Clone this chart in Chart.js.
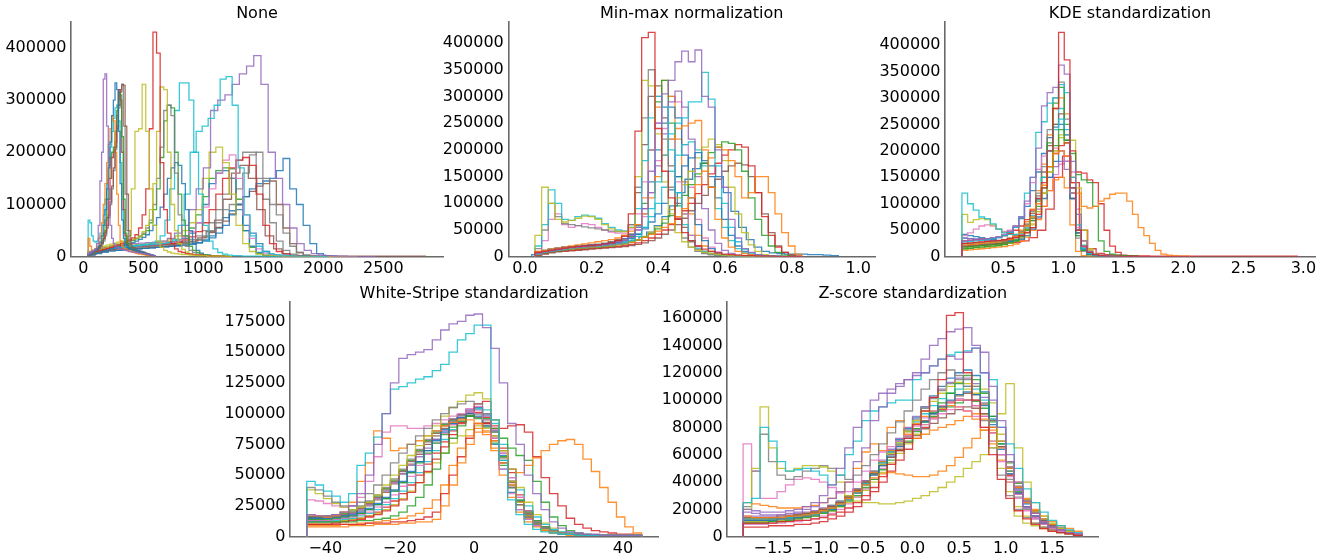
<!DOCTYPE html>
<html><head><meta charset="utf-8">
<script src="https://cdn.jsdelivr.net/npm/chart.js@4.4.1/dist/chart.umd.min.js"></script>
<style>
html,body{margin:0;padding:0;background:#fff;width:1333px;height:555px;overflow:hidden;position:relative}
canvas{position:absolute}
</style></head><body>
<script>
// ---------------- DATA (counts in thousands, 40 bins per histogram) ----------------
// Panel 1: "None" (raw intensities)
const noneXTicks = [0, 500, 1000, 1500, 2000, 2500];
const noneYTicks = [0, 100000, 200000, 300000, 400000];
const noneRanges = [
  [40,600],[40,600],[40,600],[40,600],[40,600],[40,600],[40,600],[40,600],
  [40,1240],[40,1240],[40,1240],[40,1240],[40,1240],[40,1240],
  [40,1640],[40,2040],[40,2440],
  [40,2280],[40,2280],[40,2280],[40,2280],[40,2280],[40,2280],[40,2280],[40,2280],[40,2280],[40,2280],
  [40,2850]
];
const noneCounts = [
  [6,8,10,12,15,25,60,145,200,340,350,250,130,60,35,25,20,18,16,15,14,13,12,11,10,10,9,9,8,8,7,7,6,6,5,5,4,4,3,2],
  [4,6,8,10,12,15,20,28,40,60,90,130,170,220,270,300,333,320,240,140,70,35,22,18,16,15,14,13,12,11,10,9,8,7,6,5,4,3,2,1],
  [3,5,7,9,11,13,16,20,26,34,45,60,80,105,135,170,210,250,290,315,330,328,250,120,50,25,18,15,13,12,11,10,9,8,7,6,5,4,3,2],
  [35,20,12,12,14,18,25,40,65,100,140,180,215,245,270,260,200,120,60,30,20,16,14,12,11,10,9,8,7,6,5,5,4,4,3,3,2,2,1,1],
  [5,7,9,11,13,15,18,22,30,45,70,110,150,190,200,210,240,280,315,310,230,110,45,25,18,15,13,12,11,10,9,8,7,6,5,4,3,2,2,1],
  [4,6,8,10,12,14,17,21,27,35,50,75,110,150,190,200,220,270,320,300,200,90,40,22,17,14,12,11,10,9,8,7,6,5,4,3,3,2,1,1],
  [3,5,7,9,11,13,15,19,24,30,40,55,75,100,130,165,205,245,285,320,330,250,120,50,25,18,15,13,12,11,10,9,8,7,6,5,4,3,2,1],
  [70,65,40,30,28,30,35,45,60,80,110,140,175,210,240,265,285,290,260,180,90,45,25,20,18,16,15,14,13,12,11,10,9,8,7,6,5,4,3,2],
  [8,12,15,18,20,22,24,26,28,30,34,40,130,240,245,330,240,130,60,30,18,12,9,7,6,5,4,4,3,3,2,2,2,1,1,1,1,1,0,0],
  [5,8,10,12,14,16,18,20,22,25,28,32,36,42,55,80,130,245,430,390,180,90,45,25,15,10,8,6,5,4,3,3,2,2,1,1,1,1,0,0],
  [6,9,12,14,16,18,20,22,24,26,28,30,33,36,40,48,60,90,140,240,325,320,200,100,50,25,14,9,6,4,3,2,2,1,1,1,1,0,0,0],
  [5,8,11,14,16,18,20,22,24,26,28,30,32,35,40,45,55,70,100,150,210,280,290,270,160,80,40,20,12,8,5,4,3,2,2,1,1,1,0,0],
  [4,7,10,13,15,17,19,21,23,25,27,29,31,34,38,43,50,65,90,130,190,260,290,285,200,120,70,40,20,12,8,5,4,3,2,2,1,1,1,0],
  [3,5,7,9,11,13,15,17,19,21,23,25,27,30,33,37,42,50,60,75,95,120,150,170,180,175,140,90,50,25,12,7,4,3,2,1,1,1,0,0],
  [8,12,14,15,16,17,18,19,20,21,22,23,24,26,30,40,70,130,280,333,333,300,200,120,60,30,15,8,5,3,2,2,1,1,1,1,0,0,0,0],
  [6,10,13,15,17,18,19,20,21,22,23,24,25,27,32,60,120,200,240,250,265,290,340,345,290,170,80,40,20,10,6,4,3,2,1,1,1,0,0,0],
  [10,15,18,20,22,24,25,26,27,28,30,35,45,60,90,130,170,280,300,310,330,350,365,385,330,200,150,100,55,25,12,6,3,2,1,1,0,0,0,0],
  [8,14,17,19,20,21,22,23,24,25,27,30,34,40,50,65,90,150,200,210,180,120,60,25,10,5,3,2,1,1,1,0,0,0,0,0,0,0,0,0],
  [6,12,15,17,18,19,20,21,22,23,24,26,28,32,38,48,65,95,130,160,185,195,150,80,35,15,7,4,2,1,1,0,0,0,0,0,0,0,0,0],
  [5,10,13,15,17,18,19,20,21,22,23,24,26,28,32,38,48,65,90,120,150,170,185,190,175,120,60,25,10,5,2,1,1,0,0,0,0,0,0,0],
  [5,9,12,14,16,17,18,19,20,21,22,23,24,26,29,33,40,50,65,90,120,150,185,200,200,150,110,65,30,12,5,2,1,1,0,0,0,0,0,0],
  [4,8,11,13,15,16,17,18,19,20,21,22,23,24,26,29,33,40,50,65,90,100,130,160,195,200,150,100,80,45,20,8,3,1,1,0,0,0,0,0],
  [3,6,9,11,12,13,14,15,16,17,18,19,20,21,22,24,26,30,36,45,60,80,100,115,130,140,145,150,165,188,130,100,60,25,6,2,1,0,0,0],
  [4,8,10,12,13,14,15,16,17,18,19,20,21,23,25,28,32,38,46,56,68,82,100,115,125,135,140,145,100,55,25,8,3,1,0,0,0,0,0,0],
  [5,10,13,15,17,18,19,20,21,22,23,25,27,30,35,45,65,100,140,160,165,150,100,50,20,8,3,1,0,0,0,0,0,0,0,0,0,0,0,0],
  [4,8,10,11,12,13,14,15,16,17,18,19,20,21,22,24,27,32,40,55,75,88,90,60,45,25,10,4,1,0,0,0,0,0,0,0,0,0,0,0],
  [6,11,14,16,17,18,19,20,21,22,24,26,29,33,40,55,80,115,150,165,170,168,110,50,18,6,2,1,0,0,0,0,0,0,0,0,0,0,0,0],
  [5,10,14,17,19,20,21,22,23,24,25,27,30,36,48,70,110,160,175,150,90,40,15,6,3,2,1,1,1,1,1,1,1,1,1,1,1,1,1,1]
];

// Panel 2: "Min-max normalization"
const minmaxXTicks = [0, 0.2, 0.4, 0.6, 0.8, 1.0];
const minmaxYTicks = [0, 50000, 100000, 150000, 200000, 250000, 300000, 350000, 400000];
const minmaxRanges = [
  [0.03,0.83],[0.03,0.83],[0.03,0.83],[0.03,0.83],[0.03,0.83],[0.03,0.83],[0.03,0.83],[0.03,0.83],[0.03,0.83],
  [0.03,0.83],[0.03,0.83],[0.03,0.83],[0.03,0.83],[0.03,0.83],[0.03,0.83],[0.03,0.83],[0.02,0.94],[0.03,0.83],[0.03,0.83],
  [0.03,0.83],[0.03,0.83],[0.03,0.83]
];
const minmaxCounts = [
  [8,10,12,14,16,18,19,20,21,22,24,26,30,38,80,235,410,420,240,160,110,70,45,30,20,14,10,7,5,4,3,2,2,1,1,1,0,0,0,0],
  [6,9,11,13,15,17,18,19,20,21,22,24,26,30,36,50,90,160,250,305,330,365,385,365,387,300,280,200,130,70,35,15,8,4,2,1,1,0,0,0],
  [5,8,10,12,14,16,17,18,19,20,21,22,24,26,30,38,55,90,140,190,230,250,260,290,290,345,295,170,100,55,28,14,7,4,2,1,1,0,0,0],
  [5,8,10,12,14,15,16,17,18,19,20,21,22,24,27,31,36,42,48,55,62,75,90,110,135,160,185,205,200,180,150,110,120,150,150,120,80,45,20,5],
  [10,12,14,16,18,20,22,24,26,28,30,32,35,40,48,60,80,110,150,190,220,240,245,250,255,200,130,70,35,18,10,6,4,3,2,1,1,0,0,0],
  [40,130,100,70,65,68,72,76,75,70,60,52,48,47,55,150,330,320,230,140,80,45,28,18,12,8,6,4,3,2,2,1,1,1,0,0,0,0,0,0],
  [20,60,125,100,70,68,75,78,76,72,62,55,50,48,55,90,180,260,300,280,200,120,60,30,16,10,6,4,3,2,1,1,1,0,0,0,0,0,0,0],
  [15,50,100,75,62,60,58,56,54,52,50,48,47,48,60,130,260,350,300,220,130,70,35,18,10,6,4,3,2,1,1,1,0,0,0,0,0,0,0,0],
  [10,30,70,80,60,55,58,62,60,55,50,46,44,44,52,80,140,200,250,280,220,140,80,40,20,10,6,4,2,1,1,0,0,0,0,0,0,0,0,0],
  [6,10,13,15,17,18,19,20,21,22,23,25,27,30,35,42,52,65,80,100,125,150,170,185,195,180,150,110,70,40,20,10,5,3,2,1,1,0,0,0],
  [4,7,9,11,13,14,15,16,17,18,19,20,22,24,27,31,36,43,52,63,77,95,115,135,155,175,195,205,215,212,200,160,110,70,40,20,8,3,1,0],
  [3,6,8,10,11,12,13,14,15,16,17,18,19,21,23,26,30,35,42,50,60,72,86,100,118,135,155,175,190,200,210,205,170,120,75,40,18,8,3,1],
  [3,5,7,9,10,11,12,13,14,15,16,17,18,19,21,23,26,30,35,42,50,60,72,86,100,115,130,145,160,170,175,172,150,120,80,45,20,8,3,1],
  [8,11,13,15,17,18,19,20,21,22,24,26,29,33,40,55,80,120,170,230,290,310,280,220,150,90,50,25,12,6,3,2,1,1,0,0,0,0,0,0],
  [7,10,12,14,16,17,18,19,20,21,22,24,26,29,34,42,55,75,100,130,160,190,210,215,200,170,130,90,55,30,15,7,3,2,1,0,0,0,0,0],
  [5,8,10,12,14,15,16,17,18,19,20,21,23,25,28,32,38,46,56,70,88,110,135,160,185,205,220,210,180,130,80,45,22,10,4,2,1,0,0,0],
  [4,8,11,13,15,16,17,18,19,20,22,24,27,31,37,46,58,75,95,120,145,165,175,170,150,120,85,55,32,18,10,7,6,5,5,5,4,4,3,2],
  [7,10,12,14,16,17,18,19,20,21,22,24,27,31,38,55,100,200,290,330,250,150,80,40,20,10,5,3,2,1,1,0,0,0,0,0,0,0,0,0],
  [9,12,14,16,18,19,20,21,22,23,25,27,30,34,42,58,90,140,200,250,280,260,190,110,60,30,15,7,3,2,1,0,0,0,0,0,0,0,0,0],
  [8,11,13,15,17,18,19,20,21,22,24,26,29,34,42,60,110,200,280,330,300,220,140,80,40,20,10,5,3,2,1,1,0,0,0,0,0,0,0,0],
  [6,9,11,13,15,16,17,18,19,20,22,24,27,31,38,50,75,120,180,240,300,290,210,130,70,35,18,9,4,2,1,1,0,0,0,0,0,0,0,0],
  [9,12,14,16,18,19,20,21,22,23,25,28,32,40,60,120,210,300,320,260,170,100,55,28,14,7,4,2,1,1,0,0,0,0,0,0,0,0,0,0]
];

// Panel 3: "KDE standardization"
const kdeXTicks = [0.5, 1.0, 1.5, 2.0, 2.5, 3.0];
const kdeYTicks = [0, 50000, 100000, 150000, 200000, 250000, 300000, 350000, 400000];
const kdeRanges = [
  [0.155,2.05],[0.155,2.05],[0.155,2.05],[0.155,2.05],[0.155,2.05],[0.155,2.05],[0.155,2.05],[0.155,2.05],[0.155,2.05],
  [0.155,2.05],[0.155,2.05],[0.155,2.05],[0.155,2.05],[0.155,2.05],[0.155,2.05],[0.155,2.05],[0.155,2.95],[0.155,2.05],
  [0.155,2.05],[0.155,2.05],[0.155,2.05]
];
const kdeCounts = [
  [25,26,27,28,29,30,31,32,34,36,40,46,55,80,130,200,280,424,372,130,50,20,8,4,2,1,1,1,0,0,0,0,0,0,0,0,0,0,0,0],
  [30,31,32,33,34,36,38,42,48,58,75,105,150,205,285,310,320,362,345,180,80,30,10,5,3,2,1,1,0,0,0,0,0,0,0,0,0,0,0,0],
  [28,29,30,31,32,34,36,40,46,56,75,120,150,235,255,290,300,325,310,150,60,22,8,4,2,1,1,0,0,0,0,0,0,0,0,0,0,0,0,0],
  [22,23,24,25,26,27,28,30,33,38,46,58,75,100,135,170,195,200,190,150,120,95,92,95,105,110,118,120,120,105,80,55,40,25,12,5,3,2,1,1],
  [15,16,17,18,19,20,21,23,26,30,38,50,68,95,130,170,210,240,220,195,155,145,140,95,30,10,5,3,2,1,1,0,0,0,0,0,0,0,0,0],
  [30,31,32,33,34,35,37,40,44,50,58,70,88,110,140,170,195,210,215,200,160,158,145,140,100,50,20,8,3,2,1,1,1,0,0,0,0,0,0,0],
  [120,100,88,75,72,62,52,45,42,42,45,55,75,110,150,200,240,260,230,130,50,15,6,3,2,1,1,0,0,0,0,0,0,0,0,0,0,0,0,0],
  [80,65,70,72,70,60,52,46,42,42,44,50,62,85,120,160,200,225,215,150,80,30,12,5,3,2,1,1,0,0,0,0,0,0,0,0,0,0,0,0],
  [40,45,52,58,60,58,52,48,50,58,75,100,140,165,190,200,205,200,180,120,55,20,8,4,2,1,1,0,0,0,0,0,0,0,0,0,0,0,0,0],
  [42,40,38,36,34,32,30,29,29,30,33,40,52,75,110,150,180,200,180,110,45,15,5,2,1,1,0,0,0,0,0,0,0,0,0,0,0,0,0,0],
  [18,19,20,21,22,23,24,26,28,32,40,52,72,105,150,215,290,320,250,120,40,12,4,2,1,1,0,0,0,0,0,0,0,0,0,0,0,0,0,0],
  [25,25,26,27,28,29,30,32,35,40,48,62,85,120,170,240,300,330,260,110,35,10,4,2,1,1,0,0,0,0,0,0,0,0,0,0,0,0,0,0],
  [20,21,22,23,24,25,26,28,31,36,45,60,82,115,160,210,250,270,230,120,45,14,5,2,1,1,0,0,0,0,0,0,0,0,0,0,0,0,0,0],
  [15,16,17,18,19,20,21,23,25,29,35,45,60,85,120,160,200,230,215,220,130,50,15,5,2,1,1,0,0,0,0,0,0,0,0,0,0,0,0,0],
  [12,13,14,15,16,17,18,19,21,24,29,37,50,70,95,125,145,150,130,60,10,2,1,0,0,0,0,0,0,0,0,0,0,0,0,0,0,0,0,0],
  [35,34,33,32,31,30,30,31,33,36,42,52,68,90,120,150,170,180,165,110,50,18,6,3,2,1,1,1,0,0,0,0,0,0,0,0,0,0,0,0],
  [20,21,22,23,24,25,27,30,36,50,90,150,190,140,50,15,6,4,3,2,2,1,1,1,1,1,1,1,1,1,1,1,1,1,1,1,1,1,1,1],
  [22,23,24,25,26,27,28,30,33,38,46,58,78,108,150,200,250,280,240,120,40,12,4,2,1,1,0,0,0,0,0,0,0,0,0,0,0,0,0,0],
  [35,34,33,33,33,34,36,40,46,56,72,95,125,160,195,225,245,250,220,130,50,16,6,3,2,1,1,0,0,0,0,0,0,0,0,0,0,0,0,0],
  [24,25,26,27,28,29,30,32,35,40,50,66,90,125,175,230,280,300,270,140,45,12,4,2,1,1,0,0,0,0,0,0,0,0,0,0,0,0,0,0],
  [18,19,20,21,22,23,24,26,28,31,36,44,55,72,95,125,155,175,180,160,90,30,10,4,2,1,1,0,0,0,0,0,0,0,0,0,0,0,0,0]
];

// Panel 4: "White-Stripe standardization" (all histograms on [-45, 45])
const wsXTicks = [-40, -20, 0, 20, 40];
const wsYTicks = [0, 25000, 50000, 75000, 100000, 125000, 150000, 175000];
const wsRange = [-45, 45];
const wsCounts = [
  [18,17,17,18,20,25,35,50,75,100,125,145,148,150,152,160,168,173,175,180,181,170,153,125,92,75,50,35,22,12,7,4,3,2,2,1,1,1,1,1],
  [45,42,37,33,28,35,58,68,81,100,120,122,125,128,130,135,140,150,160,165,172,172,95,62,30,18,10,6,4,3,2,2,1,1,1,1,1,1,1,1],
  [40,38,33,28,25,25,28,35,42,50,60,68,75,82,88,95,100,105,108,110,108,100,85,62,40,26,16,10,7,5,3,2,2,1,1,1,1,1,1,1],
  [38,35,31,27,24,22,24,28,34,42,50,58,66,74,82,90,98,105,110,115,117,112,95,70,45,28,17,10,6,4,3,2,1,1,1,1,1,1,1,1],
  [30,29,27,25,24,25,32,45,65,85,90,90,88,88,90,92,95,98,100,102,100,95,80,55,35,22,14,9,6,4,3,2,2,1,1,1,1,1,1,1],
  [18,17,16,17,20,28,45,60,86,80,70,72,75,78,82,86,90,93,95,95,92,85,70,50,32,20,12,8,5,3,2,2,1,1,1,1,1,1,1,1],
  [8,8,8,8,8,9,9,9,10,10,10,11,11,12,12,14,25,42,60,75,85,83,72,60,55,52,58,64,70,75,78,79,75,63,53,40,28,16,8,3],
  [10,10,10,10,10,10,10,11,11,11,12,12,13,14,16,20,35,50,65,80,92,92,90,88,90,91,85,65,48,35,25,15,10,7,5,4,3,2,2,1],
  [12,12,12,12,12,12,13,13,14,15,17,20,25,32,42,55,68,80,90,98,100,95,88,80,72,66,62,45,28,16,9,5,3,2,1,1,1,1,1,1],
  [15,15,15,16,17,18,20,23,27,32,38,45,53,61,70,78,85,92,97,100,98,90,75,55,36,22,14,9,6,4,3,2,2,1,1,1,1,1,1,1],
  [10,10,10,11,12,13,14,16,18,21,25,30,36,44,53,63,73,83,92,100,108,110,95,70,45,28,17,10,6,4,3,2,1,1,1,1,1,1,1,1],
  [14,14,14,15,16,17,19,22,26,31,37,44,52,60,68,76,83,89,94,98,100,96,85,65,45,30,20,13,8,5,3,2,2,1,1,1,1,1,1,1],
  [16,16,16,17,18,20,23,27,32,38,45,53,61,69,77,84,90,95,99,102,100,93,80,60,40,26,16,10,6,4,3,2,1,1,1,1,1,1,1,1],
  [13,13,13,14,15,16,18,20,24,28,34,41,49,58,67,76,84,91,97,104,106,100,87,68,48,32,20,13,8,5,3,2,2,1,1,1,1,1,1,1],
  [12,12,12,13,14,15,17,19,22,26,31,37,44,52,61,70,79,87,94,100,104,103,92,75,55,38,25,16,10,6,4,3,2,1,1,1,1,1,1,1],
  [11,11,11,12,13,14,15,17,19,22,26,31,37,44,52,60,68,76,82,87,90,88,82,70,55,40,28,18,11,7,4,3,2,1,1,1,1,1,1,1],
  [9,9,9,9,10,10,11,11,12,13,14,15,17,19,23,30,42,58,72,82,88,86,78,62,42,26,15,9,5,3,2,1,1,1,1,1,1,1,1,1],
  [14,14,15,16,17,19,22,26,31,37,44,51,58,65,72,79,86,92,97,101,103,98,86,68,48,32,21,13,8,5,3,2,2,1,1,1,1,1,1,1],
  [17,17,17,18,20,22,25,29,34,40,47,55,63,71,79,86,92,96,99,100,97,90,78,60,42,28,18,11,7,4,3,2,1,1,1,1,1,1,1,1],
  [13,13,13,14,15,17,19,22,26,31,37,44,52,61,70,79,87,94,99,103,105,99,86,66,45,29,18,11,7,4,3,2,1,1,1,1,1,1,1,1],
  [16,16,17,18,19,21,24,28,33,39,46,54,62,70,78,85,91,95,97,98,96,89,76,58,40,26,17,11,7,5,3,2,2,1,1,1,1,1,1,1],
  [12,12,12,12,13,14,15,17,20,24,29,35,42,50,59,68,77,86,93,98,101,97,88,72,52,34,21,13,8,5,3,2,1,1,1,1,1,1,1,1],
  [15,15,15,16,17,19,21,25,30,36,43,51,59,67,75,82,88,93,96,98,97,92,82,64,44,29,19,12,8,5,3,2,2,1,1,1,1,1,1,1]
];

// Panel 5: "Z-score standardization" (all histograms on [-1.82, 1.82])
const zXTicks = [-1.5, -1.0, -0.5, 0.0, 0.5, 1.0, 1.5];
const zYTicks = [0, 20000, 40000, 60000, 80000, 100000, 120000, 140000, 160000];
const zRange = [-1.82, 1.82];
const zCounts = [
  [10,10,10,10,11,11,12,12,13,14,16,18,21,25,30,36,44,53,63,72,82,92,102,115,162,164,120,100,80,60,42,28,19,13,9,6,4,3,2,1],
  [18,17,16,16,16,17,18,20,22,25,28,33,40,55,65,85,95,105,110,115,120,130,140,145,150,152,153,140,120,100,80,55,35,22,15,10,7,5,3,2],
  [20,19,18,18,18,19,20,22,25,30,38,50,65,80,92,100,105,108,112,115,118,120,125,130,132,130,135,138,135,110,85,60,40,26,17,11,7,5,3,2],
  [25,28,80,70,55,48,49,50,48,45,38,45,60,70,85,92,95,98,100,100,115,120,125,130,133,135,136,138,120,115,80,68,50,35,25,18,12,8,5,3],
  [20,50,95,65,50,48,50,52,52,51,48,40,30,26,25,25,24,24,25,26,28,30,33,36,40,44,50,55,60,65,90,112,65,40,25,15,10,6,4,2],
  [22,48,75,55,45,42,44,48,50,52,50,45,42,45,52,60,68,76,84,92,100,108,115,120,122,118,110,100,85,65,45,30,20,14,10,7,5,3,2,1],
  [68,48,28,28,33,38,42,43,42,40,36,32,33,40,48,56,62,66,70,74,78,82,86,90,93,95,92,88,80,70,55,40,28,19,13,9,6,4,3,2],
  [25,24,23,22,21,21,21,22,23,25,28,33,40,50,62,68,63,80,85,75,72,75,78,80,82,85,88,90,86,78,65,50,36,25,17,11,7,5,3,2],
  [15,14,14,14,14,15,15,16,17,19,21,24,28,33,38,43,46,47,46,45,44,44,45,48,52,58,65,72,78,80,70,55,40,28,19,13,9,6,4,2],
  [12,12,12,12,13,13,14,15,16,18,20,23,27,32,38,45,52,59,66,72,78,84,90,95,100,104,106,104,96,82,64,46,32,22,15,10,7,5,3,2],
  [10,10,10,11,11,12,13,14,15,17,19,22,26,30,36,42,49,56,63,70,77,84,91,98,105,112,118,115,105,88,68,48,33,22,15,10,7,5,3,2],
  [14,14,14,14,15,15,16,17,18,20,22,25,29,34,40,46,52,58,64,69,74,79,83,87,90,93,95,94,90,80,66,50,36,25,17,12,8,6,4,2],
  [11,11,11,12,12,13,14,15,16,18,20,23,27,32,38,45,53,61,69,77,85,92,99,105,110,113,112,105,90,70,50,33,22,15,10,7,5,3,2,1],
  [13,13,13,13,14,14,15,16,17,19,21,24,28,33,39,46,54,62,70,77,84,90,96,101,105,108,110,108,100,86,68,50,35,24,17,12,8,6,4,2],
  [9,9,9,10,10,11,11,12,13,15,17,20,24,29,35,42,50,58,66,74,81,87,92,96,99,101,100,96,88,76,60,44,31,21,14,10,7,5,3,2],
  [12,12,12,13,13,14,15,16,17,19,21,24,28,33,39,46,54,62,70,78,86,94,101,107,112,115,115,110,98,80,60,42,29,20,13,9,6,4,3,2],
  [7,7,7,8,8,8,9,9,10,11,13,15,18,22,27,33,40,48,56,64,72,80,87,93,98,100,100,96,88,76,60,45,32,22,15,10,7,5,3,2],
  [13,13,13,14,14,15,16,17,18,20,22,25,29,34,40,47,55,63,70,77,83,88,92,95,96,95,92,86,78,68,56,45,35,27,20,15,11,8,6,4],
  [15,15,15,15,16,16,17,18,19,21,23,26,30,35,41,48,56,64,72,80,88,95,102,108,113,116,116,112,102,86,66,48,34,24,17,12,8,6,4,2],
  [11,11,11,12,12,13,14,15,17,19,22,25,29,34,40,47,55,63,71,79,87,95,103,110,116,120,122,118,106,88,66,46,31,21,14,10,7,5,3,2],
  [13,13,13,13,14,15,16,17,18,20,23,26,30,35,41,48,55,62,68,74,79,84,88,92,95,98,100,99,94,84,70,54,39,27,19,13,9,6,4,2],
  [10,10,10,11,11,12,13,14,15,17,19,22,25,29,34,40,47,54,61,68,75,82,88,94,99,104,108,110,108,98,75,40,15,10,8,6,4,3,2,1],
  [12,12,12,13,13,14,15,16,18,20,22,25,29,34,40,46,53,60,67,73,79,85,90,95,99,103,105,104,97,85,68,51,37,26,18,12,8,6,4,2]
];

// ---------------- STYLE (separate from data) ----------------
const TAB10 = ['#1f77b4','#ff7f0e','#2ca02c','#d62728','#9467bd','#8c564b','#e377c2','#7f7f7f','#bcbd22','#17becf'];
const noneColors   = [4,0,5,1,2,3,7,9, 8,3,8,7,2,0, 9,9,4, 8,6,3,7,7,0,5,0,0,2, 5];
const minmaxColors = [3,4,9,1,1,8,9,7,6,0,2,3,5,4,9,8,0,2,0,1,6,5];
const kdeColors    = [3,4,9,1,2,3,9,8,6,0,2,7,5,8,1,4,3,9,0,1,6];
const wsColors     = [4,9,7,8,6,1,1,3,2,0,3,2,5,6,9,8,1,4,7,0,2,3,5];
const zColors      = [3,4,4,9,8,7,6,1,1,0,2,5,8,9,6,7,3,1,4,0,2,8,5];

Chart.defaults.font.family = "'DejaVu Sans', sans-serif";
Chart.defaults.font.size = 16;
Chart.defaults.color = '#000';

function rgba(hex, a) {
  const n = parseInt(hex.slice(1), 16);
  return 'rgba(' + (n >> 16) + ',' + ((n >> 8) & 255) + ',' + (n & 255) + ',' + a + ')';
}
// histogram outline: bin edges come from the histogram range split into equal bins
function histPoints(range, counts) {
  const n = counts.length, w = (range[1] - range[0]) / n;
  const pts = [{x: range[0], y: 0}];
  for (let i = 0; i < n; i++) pts.push({x: range[0] + i * w, y: counts[i] * 1000});
  pts.push({x: range[1], y: 0});
  return pts;
}
function fmtNum(v, dec) {
  const s = dec > 0 ? Number(v).toFixed(dec) : String(Math.round(v));
  return s.replace('-', '\u2212');
}

function makePanel(p) {
  const cl = Math.max(0, Math.floor(p.axL) - 72);
  const ct = p.rowTop;
  const cr = Math.ceil(p.axR) + 12;
  const cb = Math.ceil(p.axB) + 26;
  const cv = document.createElement('canvas');
  cv.width = cr - cl; cv.height = cb - ct;
  cv.style.left = cl + 'px'; cv.style.top = ct + 'px';
  cv.style.width = (cr - cl) + 'px'; cv.style.height = (cb - ct) + 'px';
  document.body.appendChild(cv);
  const datasets = p.counts.map((c, i) => ({
    data: histPoints(p.ranges[i], c),
    borderColor: rgba(TAB10[p.colors[i]], 0.85),
    borderWidth: 1.3,
    stepped: 'before',
    pointRadius: 0,
    fill: false
  }));
  const AX = '#6a6a6a';
  new Chart(cv, {
    type: 'line',
    data: {datasets},
    options: {
      responsive: false, animation: false, events: [],
      layout: {padding: {left: 0, top: p.axT - ct, right: cr - p.axR, bottom: 0}},
      plugins: {legend: {display: false}, tooltip: {enabled: false}, title: {display: false}},
      scales: {
        x: {
          type: 'linear', min: p.xMin, max: p.xMax,
          grid: {display: false, drawTicks: false},
          border: {display: true, color: AX, width: 1.6},
          ticks: {padding: 3, maxRotation: 0, autoSkip: false, color: '#000',
                  callback: v => fmtNum(v, p.xDec)},
          afterBuildTicks: s => { s.ticks = p.xTicks.map(v => ({value: v})); },
          afterFit: s => { s.height = cb - p.axB; }
        },
        y: {
          type: 'linear', min: 0, max: p.yMax,
          grid: {display: false, drawTicks: false},
          border: {display: true, color: AX, width: 1.6},
          ticks: {padding: 4.5, autoSkip: false, color: '#000', callback: v => fmtNum(v, 0)},
          afterBuildTicks: s => { s.ticks = p.yTicks.map(v => ({value: v})); },
          afterFit: s => { s.width = p.axL - cl; }
        }
      }
    },
    plugins: [{
      id: 'panelTitle',
      afterDraw(chart) {
        const ctx = chart.ctx, a = chart.chartArea;
        ctx.save();
        ctx.font = "16px 'DejaVu Sans', sans-serif";
        ctx.fillStyle = '#000';
        ctx.textAlign = 'center';
        ctx.textBaseline = 'alphabetic';
        ctx.fillText(p.title, (a.left + a.right) / 2, p.titleBase - ct);
        ctx.restore();
      }
    }]
  });
}

makePanel({title: 'None', rowTop: 0, axL: 71, axR: 443, axT: 21.7, axB: 256.7, titleBase: 18.3,
  xMin: -103, xMax: 2997, yMax: 450000, xTicks: noneXTicks, yTicks: noneYTicks, xDec: 0,
  ranges: noneRanges, counts: noneCounts, colors: noneColors});
makePanel({title: 'Min-max normalization', rowTop: 0, axL: 508.3, axR: 875, axT: 21.7, axB: 256.7, titleBase: 18.3,
  xMin: -0.05, xMax: 1.05, yMax: 440000, xTicks: minmaxXTicks, yTicks: minmaxYTicks, xDec: 1,
  ranges: minmaxRanges, counts: minmaxCounts, colors: minmaxColors});
makePanel({title: 'KDE standardization', rowTop: 0, axL: 945, axR: 1315, axT: 21.7, axB: 256.7, titleBase: 18.3,
  xMin: 0.014, xMax: 3.097, yMax: 444000, xTicks: kdeXTicks, yTicks: kdeYTicks, xDec: 1,
  ranges: kdeRanges, counts: kdeCounts, colors: kdeColors});
makePanel({title: 'White-Stripe standardization', rowTop: 280, axL: 290, axR: 658.3, axT: 301.7, axB: 536.7, titleBase: 298.3,
  xMin: -49.5, xMax: 49.5, yMax: 191000, xTicks: wsXTicks, yTicks: wsYTicks, xDec: 0,
  ranges: wsCounts.map(() => wsRange), counts: wsCounts, colors: wsColors});
makePanel({title: 'Z-score standardization', rowTop: 280, axL: 727.3, axR: 1098.3, axT: 301.7, axB: 536.7, titleBase: 298.3,
  xMin: -1.99, xMax: 1.995, yMax: 172000, xTicks: zXTicks, yTicks: zYTicks, xDec: 1,
  ranges: zCounts.map(() => zRange), counts: zCounts, colors: zColors});
</script>
</body></html>
